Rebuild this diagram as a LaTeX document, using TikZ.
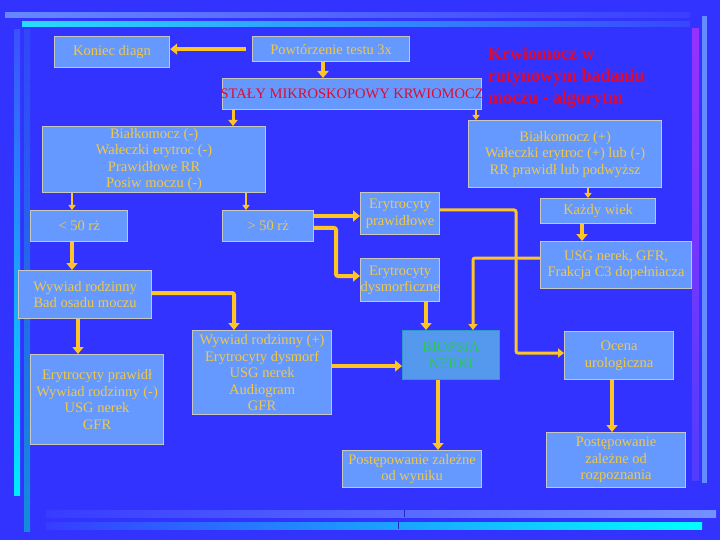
\documentclass[tikz,border=0pt]{standalone}
\usepackage{fontspec}
\setmainfont{Liberation Serif}
\usetikzlibrary{arrows.meta,calc}
\definecolor{bgc}{RGB}{51,51,255}
\definecolor{boxc}{RGB}{102,153,255}
\definecolor{bordc}{RGB}{200,200,190}
\definecolor{txtc}{RGB}{240,200,70}
\definecolor{arrc}{RGB}{255,196,40}
\definecolor{redc}{RGB}{225,10,45}
\definecolor{grnc}{RGB}{40,200,90}
\definecolor{biofill}{RGB}{85,153,238}
\definecolor{bioborder}{RGB}{50,150,200}
\definecolor{barA}{RGB}{102,136,255}
\definecolor{barAend}{RGB}{58,62,255}
\definecolor{barB}{RGB}{40,220,255}
\definecolor{barBend}{RGB}{56,70,255}
\definecolor{barR}{RGB}{100,140,255}
\definecolor{purpT}{RGB}{150,50,255}
\definecolor{purpB}{RGB}{80,60,255}
\definecolor{cyanT}{RGB}{60,80,255}
\definecolor{cyanB}{RGB}{0,235,255}
\definecolor{tealT}{RGB}{50,70,250}
\definecolor{tealB}{RGB}{20,140,220}
\definecolor{botL}{RGB}{55,60,255}
\definecolor{botR}{RGB}{115,145,255}
\definecolor{botC}{RGB}{0,255,255}
\definecolor{sepc}{RGB}{40,40,190}
\tikzset{
  box/.style={draw=bordc, line width=1.2pt, fill=boxc, text=txtc, align=center,
    inner sep=0pt, anchor=north west, font=\fontsize{14.5}{16.5}\selectfont},
  con/.style={draw=arrc, rounded corners=2pt},
  arT/.style={con, line width=4pt, -{Triangle[length=7pt,width=11pt]}},
  arM/.style={con, line width=3pt, -{Triangle[length=6pt,width=9pt]}},
  arS/.style={con, line width=2pt, -{Triangle[length=5pt,width=7pt]}},
}
\begin{document}
\begin{tikzpicture}[x=1pt,y=-1pt]
\useasboundingbox (0,0) rectangle (720,540);
\fill[bgc] (0,0) rectangle (720,540);
% decorative bars
\shade[left color=barA, right color=barAend] (5,13) rectangle (690,18);
\shade[left color=barB, right color=barBend] (22,22) rectangle (690,27);
\fill[barR] (702,16) rectangle (707,483);
\shade[top color=purpT, bottom color=purpB] (692,29) rectangle (699,480);
\shade[top color=cyanT, bottom color=cyanB] (14,30) rectangle (20,495);
\shade[top color=tealT, bottom color=tealB] (24,30) rectangle (30,531);
\shade[left color=botL, right color=botR] (46,510) rectangle (716,517);
\shade[left color=botL, right color=botC] (46,522) rectangle (702,529);
\draw[sepc, line width=0.7pt] (404,510) -- (404,517) (398,522) -- (398,529);

% nodes
\node[box, minimum width=115pt, minimum height=31pt] (koniec) at (54,36) {Koniec diagn};
\node[box, minimum width=157pt, minimum height=25pt] (powt) at (252,36) {Powtórzenie testu 3x};
\node[box, minimum width=259pt, minimum height=31pt] (staly) at (222,78) {};
\node[text=redc, font=\fontsize{14.5}{16.5}\selectfont, inner sep=0pt] (stalyt) at (staly.center) {STAŁY MIKROSKOPOWY KRWIOMOCZ};
\node[text=redc, font=\bfseries\fontsize{18}{22}\selectfont, align=left, anchor=west, inner sep=0pt] (title) at (488,77) {Krwiomocz w\\rutynowym badaniu\\moczu - algorytm};
\node[box, minimum width=223pt, minimum height=66pt] (bialm) at (42,126) {Białkomocz (-)\\Wałeczki erytroc (-)\\Prawidłowe RR\\Posiw moczu (-)};
\node[box, minimum width=193pt, minimum height=67pt] (bialp) at (468,120) {Białkomocz (+)\\Wałeczki erytroc (+) lub (-)\\RR prawidł lub podwyższ};
\node[box, minimum width=97pt, minimum height=31pt] (lt50) at (30,210) {< 50 rż};
\node[box, minimum width=91pt, minimum height=31pt] (gt50) at (222,210) {> 50 rż};
\node[box, minimum width=79pt, minimum height=42pt] (erpraw) at (360,192) {Erytrocyty\\prawidłowe};
\node[box, minimum width=79pt, minimum height=43pt] (erdys) at (360,258) {Erytrocyty\\dysmorficzne};
\node[box, minimum width=115pt, minimum height=25pt] (kazdy) at (540,198) {Każdy wiek};
\node[box, minimum width=151pt, minimum height=47pt] (usg) at (540,241) {USG nerek, GFR,\\Frakcja C3 dopełniacza};
\node[box, minimum width=133pt, minimum height=48pt] (wywiad) at (18,270) {Wywiad rodzinny\\Bad osadu moczu};
\node[box, minimum width=133pt, minimum height=90pt] (erpr2) at (30,354) {Erytrocyty prawidł\\Wywiad rodzinny (-)\\USG nerek\\GFR};
\node[box, minimum width=139pt, minimum height=84pt] (wplus) at (192,330) {Wywiad rodzinny (+)\\Erytrocyty dysmorf\\USG nerek\\Audiogram\\GFR};
\node[box, fill=biofill, draw=bioborder, text=grnc, minimum width=97pt, minimum height=49pt] (biopsja) at (402,330) {BIOPSJA\\NERKI};
\node[box, minimum width=109pt, minimum height=48pt] (ocena) at (564,331) {Ocena\\urologiczna};
\node[box, minimum width=139pt, minimum height=37pt] (postw) at (342,450) {Postępowanie zależne\\od wyniku};
\node[box, minimum width=139pt, minimum height=55pt] (postr) at (546,432) {Postępowanie\\zależne od\\rozpoznania};

% routing coordinates
\coordinate (xb) at (323,0);
\coordinate (xc) at (233,0);
\coordinate (xd) at (476,0);
\coordinate (xe) at (72,0);
\coordinate (xf) at (246,0);
\coordinate (xg) at (588,0);
\coordinate (xh) at (582,0);
\coordinate (xk) at (336,0);
\coordinate (xl) at (516,0);
\coordinate (xm) at (473,0);
\coordinate (xn) at (426,0);
\coordinate (xo) at (234,0);
\coordinate (xp) at (78,0);
\coordinate (xq) at (438,0);
\coordinate (xr) at (612,0);
\coordinate (yj) at (0,216);
\coordinate (yk1) at (0,228);
\coordinate (yk2) at (0,276);
\coordinate (yl1) at (0,210);
\coordinate (yl2) at (0,353);
\coordinate (ym) at (0,258);
\coordinate (yo) at (0,293);
\coordinate (ywp) at (0,366);

% connectors
\draw[arT] ([xshift=-6pt]powt.west) -- (koniec.east |- powt.west);
\draw[arT] (powt.south -| xb) -- (staly.north -| xb);
\draw[arM] (staly.south -| xc) -- (bialm.north -| xc);
\draw[arS] (staly.south -| xd) -- (bialp.north -| xd);
\draw[arS] (bialm.south -| xe) -- (lt50.north -| xe);
\draw[arS] (bialm.south -| xf) -- (gt50.north -| xf);
\draw[arS] (bialp.south -| xg) -- (kazdy.north -| xg);
\draw[arT] (kazdy.south -| xh) -- (usg.north -| xh);
\draw[arT] (lt50.south -| xe) -- (wywiad.north -| xe);
\draw[arT] (gt50.east |- yj) -- (erpraw.west |- yj);
\draw[arT] (gt50.east |- yk1) -- (xk |- yk1) -- (xk |- yk2) -- (erdys.west |- yk2);
\draw[arM] (erpraw.east |- yl1) -- (xl |- yl1) -- (xl |- yl2) -- (ocena.west |- yl2);
\draw[arM] (usg.west |- ym) -- (xm |- ym) -- (xm |- biopsja.north);
\draw[arT] (erdys.south -| xn) -- (biopsja.north -| xn);
\draw[arT] (wywiad.east |- yo) -- (xo |- yo) -- (xo |- wplus.north);
\draw[arT] (wywiad.south -| xp) -- (erpr2.north -| xp);
\draw[arT] (wplus.east |- ywp) -- (biopsja.west |- ywp);
\draw[arT] (biopsja.south -| xq) -- (postw.north -| xq);
\draw[arT] (ocena.south -| xr) -- (postr.north -| xr);
\end{tikzpicture}
\end{document}
